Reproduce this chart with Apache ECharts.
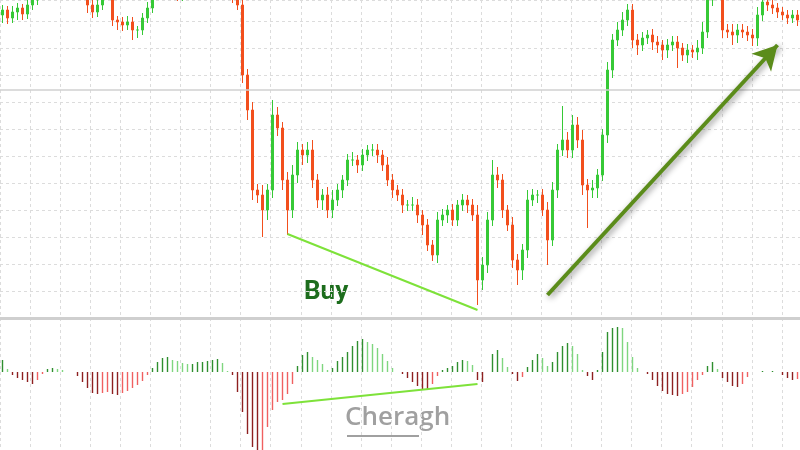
<!DOCTYPE html>
<html>
<head>
<meta charset="utf-8">
<script src="https://cdn.jsdelivr.net/npm/echarts@6/dist/echarts.min.js"></script>
<style>html,body{margin:0;padding:0;background:#fff}#main{width:800px;height:450px}</style>
</head>
<body>
<div id="main"></div>
<script>
// closing prices, one per bar
var closes = [
    308,300,306,310,304,313,318,328,335,340,
    345,342,338,344,348,340,333,313,306,313,
    323,333,298,296,293,296,288,288,300,310,
    323,335,340,338,332,322,330,338,345,325,
    335,342,340,336,330,325,320,313,243,208,
    128,123,108,128,203,190,138,108,143,168,
    163,168,138,118,123,108,118,128,138,158,
    158,153,163,168,168,163,153,138,128,123,
    113,113,113,103,93,73,63,98,103,108,
    98,113,118,113,103,38,53,98,143,138,
    108,93,58,48,68,118,123,123,108,78,
    128,168,178,168,193,178,133,128,130,143,
    183,248,278,288,298,308,278,273,280,283,
    276,273,268,273,276,270,263,268,266,270,
    286,318,338,333,288,286,283,288,286,283,
    280,303,316,313,310,306,303,300,303,298
];
var firstOpen = 303;
// upper and lower wick lengths
var wickUp = [
    5,4,6,5,4,6,5,5,5,5, 5,5,5,5,5,5,5,6,5,6, 5,5,6,4,5,6,5,4,5,6, 5,5,5,5,8,5,5,5,6,5,
    5,5,5,5,5,5,5,6,10,6, 8,6,10,6,15,8,6,8,10,8, 6,8,10,6,6,8,10,6,5,6, 8,5,6,5,6,6,5,8,6,5,
    6,5,8,6,5,6,5,8,6,5, 6,5,6,5,6,10,8,8,15,8, 6,5,8,6,6,10,6,5,6,8, 8,6,34,8,10,8,10,6,8,6,
    6,8,6,8,8,6,6,6,6,5, 6,6,5,6,6,6,5,6,5,8, 10,8,8,8,6,6,8,6,6,6, 6,8,6,5,5,5,5,5,5,5
];
var wickDn = [
    8,6,5,8,6,5,5,5,5,5, 5,5,5,5,5,5,5,8,6,5, 5,5,6,8,6,5,10,8,5,5, 5,5,5,5,5,5,5,5,5,5,
    5,5,5,5,5,5,5,5,8,10, 10,8,27,10,8,8,10,25,8,8, 10,8,8,8,10,8,8,6,8,6, 6,8,6,6,6,8,6,6,8,6,
    8,6,6,8,10,6,6,8,6,8, 6,6,6,8,6,25,10,8,6,8, 8,6,8,15,10,8,6,8,6,25, 6,8,6,8,8,8,10,38,8,10,
    6,8,8,6,6,6,8,10,6,6, 8,8,10,8,6,20,6,8,6,8, 6,6,6,10,8,6,10,8,6,6, 8,8,6,6,6,6,5,6,5,6
];
// oscillator histogram
var osma = [
    12,3,-3,-6,-8,-10,-12,-8,-2,3, 4,3,2,0,0,-4,-10,-16,-21,-22,
    -21,-20,-22,-23,-21,-19,-16,-13,-9,-3, 4,10,14,15,12,11,9,8,8,10,
    10,11,12,13,9,1,-3,-20,-40,-62, -75,-80,-80,-55,-38,-30,-28,-22,-12,6,
    17,20,15,12,8,2,4,11,15,20, 26,31,33,30,28,24,18,11,4,0,
    -2,-6,-10,-14,-17,-18,-12,-4,2,4, 6,10,12,11,7,-8,-10,0,18,22,
    14,5,-2,-9,-5,5,12,18,14,6, 10,20,26,29,26,18,2,-4,-8,2,
    20,40,44,45,44,30,15,4,0,-2, -8,-14,-19,-22,-23,-24,-22,-20,-15,-8,
    -3,6,10,3,-6,-10,-14,-15,-12,-5, 0,0,1,0,1,0,-3,-6,-8,-7
];
var categories = closes.map(function (v, i) { return String(i + 1); });

var candles = closes.map(function (c, i) {
    var o = i === 0 ? firstOpen : closes[i - 1];
    return [o, c, Math.min(o, c) - wickDn[i], Math.max(o, c) + wickUp[i]];
});
var histData = osma.map(function (v, i) {
    var prev = i === 0 ? 0 : osma[i - 1];
    var rising = v >= prev;
    var col = v >= 0 ? (rising ? '#2f8f2f' : '#7fd67f') : (rising ? '#f06060' : '#8e2020');
    return {value: v, itemStyle: {color: col}};
});

var chart = echarts.init(document.getElementById('main'));
var grey = '#dcdcdc';
chart.setOption({
    animation: false,
    grid: [
        {left: 0, right: 0, top: 0, bottom: 132},
        {left: 0, right: 0, top: 322, bottom: 0},
        {left: -16.7, right: 0, top: 0, bottom: 0}
    ],
    xAxis: [
        {type: 'category', data: categories, gridIndex: 0, boundaryGap: true,
            axisLine: {show: true, lineStyle: {color: '#cfcfcf', width: 3}},
            axisTick: {show: false}, axisLabel: {show: false}, splitLine: {show: false}},
        {type: 'category', data: categories, gridIndex: 1, boundaryGap: true,
            axisLine: {show: false}, axisTick: {show: false}, axisLabel: {show: false}},
        {type: 'value', gridIndex: 2, min: 0, max: 26.6, interval: 1,
            axisLine: {show: false}, axisTick: {show: false}, axisLabel: {show: false},
            splitLine: {show: true, lineStyle: {color: grey, type: [3, 3], width: 1}}}
    ],
    yAxis: [
        {type: 'value', gridIndex: 0, min: 0, max: 318, interval: 27,
            axisLine: {show: false}, axisTick: {show: false}, axisLabel: {show: false},
            splitLine: {show: true, lineStyle: {color: grey, type: [3, 3], width: 1}}},
        {type: 'value', gridIndex: 1, min: -78, max: 50,
            axisLine: {show: false}, axisTick: {show: false}, axisLabel: {show: false},
            splitLine: {show: false}},
        {type: 'value', gridIndex: 2, min: 0, max: 1, show: false}
    ],
    series: [
        {type: 'line', xAxisIndex: 2, yAxisIndex: 2, data: [], silent: true},
        {
            type: 'candlestick', xAxisIndex: 0, yAxisIndex: 0, data: candles,
            barWidth: 3, clip: true,
            itemStyle: {color: '#36c936', color0: '#f24f1d', borderColor: '#36c936', borderColor0: '#f24f1d', borderWidth: 1},
            markLine: {
                silent: true,
                symbol: ['none', 'none'],
                label: {show: false},
                data: [
                    {yAxis: 228, lineStyle: {color: '#d0d0d0', width: 1.5, type: 'solid'}},
                    [{coord: [56.7, 84], lineStyle: {color: '#7ee23a', width: 2, type: 'solid'}}, {coord: [95.1, 8]}],
                    [{coord: [108.5, 23], symbol: 'none', lineStyle: {color: '#5b8c1a', width: 4, type: 'solid',
                        shadowBlur: 6, shadowColor: 'rgba(0,0,0,0.45)', shadowOffsetX: 2, shadowOffsetY: 2}},
                        {coord: [154.5, 273], symbol: 'arrow', symbolSize: [20, 24],
                            itemStyle: {color: '#7b8f12', borderColor: '#4f6a10', borderWidth: 1}}]
                ]
            }
        },
        {
            type: 'bar', xAxisIndex: 1, yAxisIndex: 1, data: histData, barWidth: 1.4,
            markLine: {
                silent: true,
                symbol: ['none', 'none'],
                label: {show: false},
                data: [
                    [{coord: [56.1, -32], lineStyle: {color: '#7ee23a', width: 2, type: 'solid'}}, {coord: [95.1, -12]}]
                ]
            }
        }
    ],
    graphic: [
        {type: 'text', left: 304, top: 279, style: {text: 'Buy', fill: '#1d6d1d', font: 'bold 26px Roboto, sans-serif'}},
        {type: 'text', left: 345, top: 405, style: {text: 'Cheragh', fill: '#a0a0a0', font: '600 26px "Open Sans", sans-serif'}},
        {type: 'rect', left: 347, top: 435, shape: {width: 72, height: 2}, style: {fill: '#a0a0a0'}}
    ]
});
</script>
</body>
</html>
